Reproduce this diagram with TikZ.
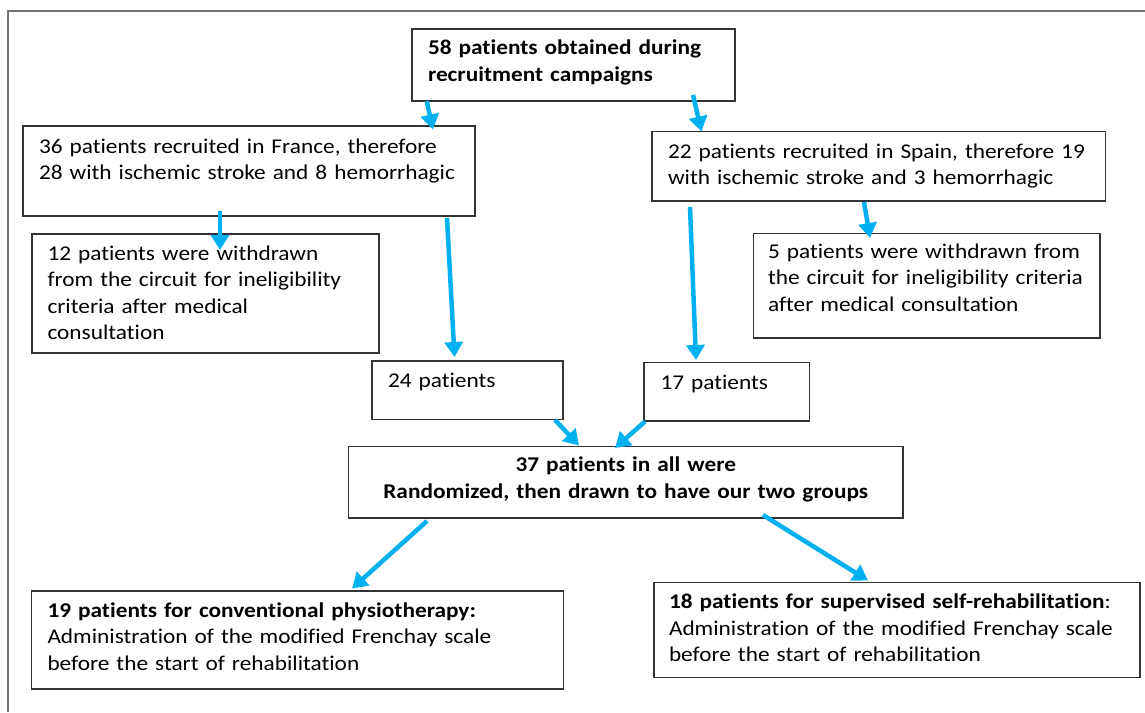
\documentclass[tikz,border=0pt]{standalone}
\usepackage{fontspec}
\setmainfont{Carlito}[FakeStretch=1.11, Ligatures={NoCommon}]
\usetikzlibrary{arrows.meta,calc}
\definecolor{arrowblue}{RGB}{0,176,240}
\begin{document}
\begin{tikzpicture}[x=1pt,y=-1pt,
  box/.style={draw=black!80, line width=1.3pt, anchor=north west, outer sep=0pt,
    inner ysep=0pt, align=left, font=\fontsize{21}{26.5}\selectfont},
  arr/.style={draw=arrowblue, line width=4.5pt, -{Triangle[width=18pt,length=15pt]}},
  frameline/.style={draw=black!55, line width=1.5pt}]
\useasboundingbox (0,0) rectangle (1145,712);
\fill[white] (0,0) rectangle (1145,712);
\draw[frameline] (8,712) -- (8,11) -- (1145,11);

\node[box, text width=291pt, inner xsep=16pt, text height=25.5pt, text depth=46.5pt] (top) at (412,29)
  {\mbox{\textbf{58 patients obtained during}}\\\mbox{\textbf{recruitment campaigns}}};
\node[box, text width=420pt, inner xsep=16pt, text height=27pt, text depth=63pt] (fr) at (23,126)
  {\mbox{36 patients recruited in France, therefore}\\\mbox{28 with ischemic stroke and 8 hemorrhagic}};
\node[box, text width=421.5pt, inner xsep=16pt, text height=26.5pt, text depth=43pt] (sp) at (652,131.5)
  {\mbox{22 patients recruited in Spain, therefore 19}\\\mbox{with ischemic stroke and 3 hemorrhagic}};
\node[box, text width=316pt, inner xsep=15.5pt, text height=26pt, text depth=93pt] (lw) at (32,234)
  {\mbox{12 patients were withdrawn}\\\mbox{from the circuit for ineligibility}\\\mbox{criteria after medical}\\\mbox{consultation}};
\node[box, text width=317.5pt, inner xsep=14.5pt, text height=24.5pt, text depth=80pt] (rw) at (753.5,233.5)
  {\mbox{5 patients were withdrawn from}\\\mbox{the circuit for ineligibility criteria}\\\mbox{after medical consultation}};
\node[box, text width=159pt, inner xsep=16pt, text height=26.7pt, text depth=31.8pt] (b24) at (372,361)
  {24 patients};
\node[box, text width=132.5pt, inner xsep=16.5pt, text height=26.5pt, text depth=32pt] (b17) at (644,362.5)
  {17 patients};
\node[box, align=center, text width=534.5pt, inner xsep=10pt, text height=25.2pt, text depth=46.3pt] (b37) at (348.5,446.5)
  {\mbox{\textbf{37 patients in all were}}\\\mbox{\textbf{Randomized, then drawn to have our two groups}}};
\node[box, text width=500pt, inner xsep=16pt, text height=26pt, text depth=72pt] (b19) at (31.5,591)
  {\mbox{\textbf{19 patients for conventional physiotherapy:}}\\\mbox{Administration of the modified Frenchay scale}\\\mbox{before the start of rehabilitation}};
\node[box, text width=456pt, inner xsep=15pt, text height=26pt, text depth=69pt] (b18) at (654,582.5)
  {\mbox{\textbf{18 patients for supervised self-rehabilitation}:}\\\mbox{Administration of the modified Frenchay scale}\\\mbox{before the start of rehabilitation}};

\draw[arr] ($(top.south west)+(14.7,0)$) -- ($(fr.north east)+(-42,3.5)$);
\draw[arr] ($(top.south east)+(-42,-6)$) -- ($(sp.north west)+(49.5,0)$);
\draw[arr] ($(fr.south west)+(197,-5)$) -- ($(lw.north west)+(188,16)$);
\draw[arr] ($(fr.south east)+(-28,2)$) -- ($(b24.north west)+(82.5,-4)$);
\draw[arr] ($(sp.south west)+(212,1)$) -- ($(rw.north west)+(116.5,4.5)$);
\draw[arr] ($(sp.south west)+(38,6)$) -- ($(b17.north west)+(52,-2.5)$);
\draw[arr] ($(b24.south east)+(-8,0.5)$) -- ($(b37.north west)+(230.5,-1)$);
\draw[arr] ($(b17.south west)+(1,0.5)$) -- ($(b37.north west)+(266.5,1.5)$);
\draw[arr] ($(b37.south west)+(78.5,3)$) -- ($(b19.north west)+(320.5,-2.5)$);
\draw[arr] ($(b37.south west)+(414.5,-3)$) -- ($(b18.north west)+(214,-2)$);
\end{tikzpicture}
\end{document}
